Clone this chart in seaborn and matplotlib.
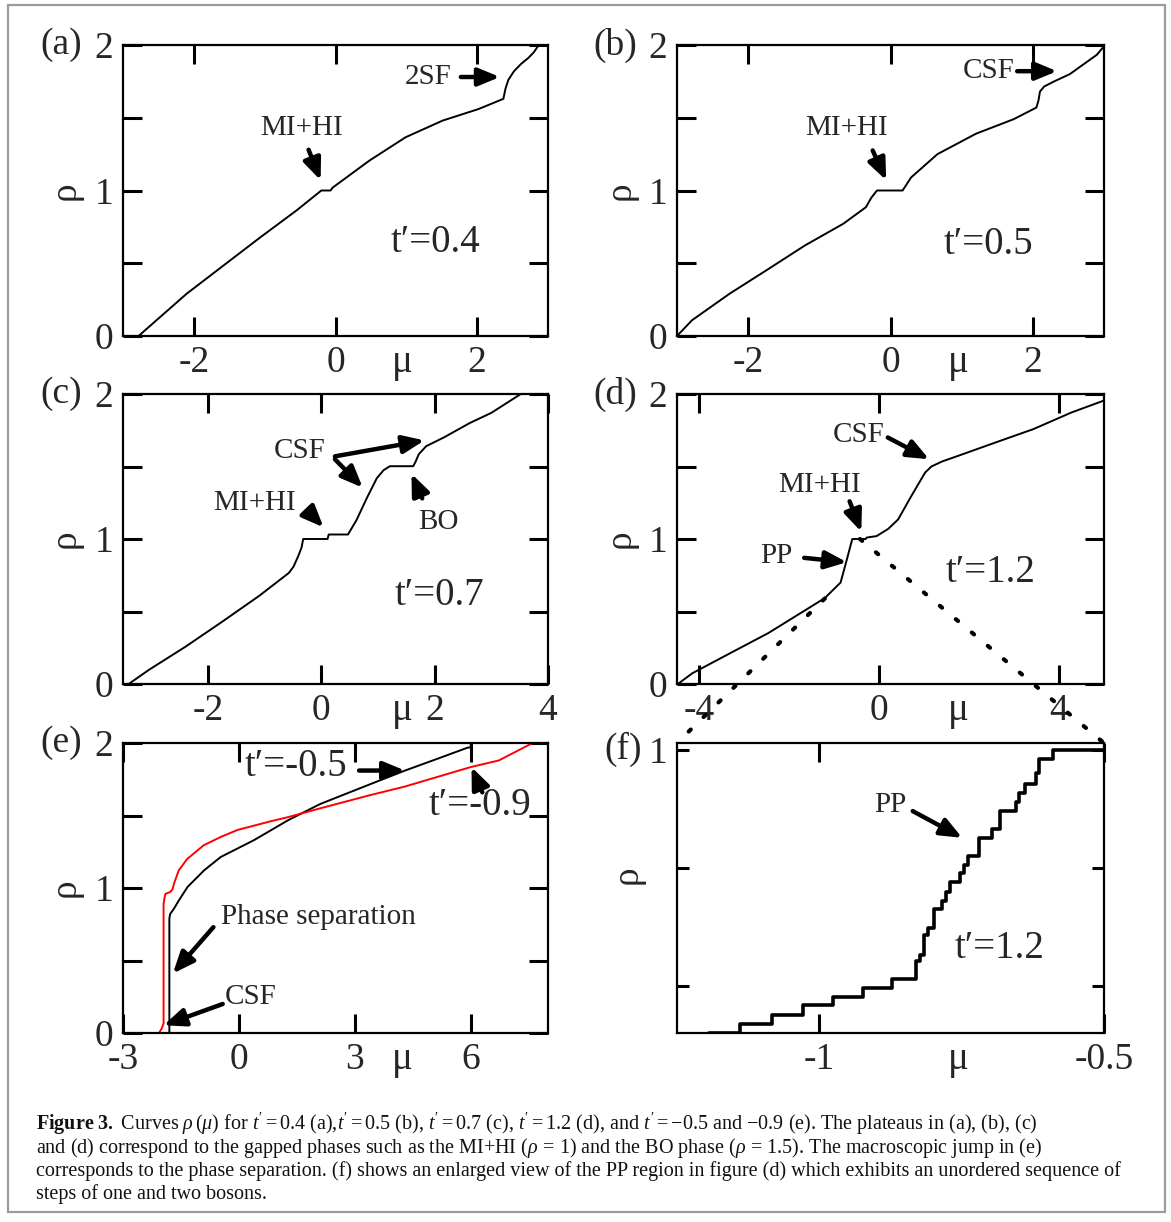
import matplotlib
matplotlib.use("Agg")
import matplotlib.pyplot as plt
import seaborn as sns
from matplotlib.patches import ConnectionPatch, Rectangle

# ---------------------------------------------------------------- data
# (a) t' = 0.4
mu_a = [-2.78, -2.61, -2.10, -1.58, -1.07, -0.55, -0.20, -0.07, -0.04, 0.48,
        0.99, 1.51, 2.02, 2.37, 2.40, 2.44, 2.52, 2.62, 2.72, 2.80, 2.87]
rho_a = [0.0, 0.073, 0.291, 0.485, 0.675, 0.863, 1.0, 1.0, 1.02, 1.206,
         1.366, 1.48, 1.56, 1.63, 1.70, 1.76, 1.82, 1.87, 1.91, 1.95, 2.0]

# (b) t' = 0.5
mu_b = [-3.0, -2.79, -2.26, -1.73, -1.20, -0.665, -0.346, -0.27, -0.19, 0.17,
        0.29, 0.66, 1.20, 1.73, 2.05, 2.08, 2.10, 2.16, 2.30, 2.52, 2.90, 2.98]
rho_b = [0.0, 0.108, 0.291, 0.456, 0.623, 0.771, 0.885, 0.95, 1.0, 1.0,
         1.09, 1.25, 1.39, 1.49, 1.57, 1.62, 1.68, 1.715, 1.75, 1.80, 1.933, 1.98]

# (c) t' = 0.7
mu_c = [-3.40, -3.045, -2.394, -1.744, -1.093, -0.573, -0.49, -0.41, -0.35, -0.32,
        0.11, 0.13, 0.47, 0.62, 0.80, 0.98, 1.10, 1.21, 1.62, 1.66, 1.72, 1.85,
        2.16, 2.62, 3.0, 3.52]
rho_c = [0.0, 0.097, 0.258, 0.431, 0.609, 0.766, 0.81, 0.88, 0.94, 1.0,
         1.0, 1.031, 1.031, 1.13, 1.28, 1.42, 1.475, 1.502, 1.502, 1.53, 1.585, 1.64,
         1.70, 1.80, 1.87, 2.0]

# (d) t' = 1.2
mu_d = [-4.48, -4.16, -3.32, -2.47, -1.63, -1.21, -0.86, -0.72, -0.60, -0.30,
        -0.28, -0.06, 0.20, 0.42, 0.72, 1.02, 1.16, 1.40, 1.75, 2.59, 3.43, 4.28, 5.0]
rho_d = [0.0, 0.074, 0.212, 0.351, 0.512, 0.593, 0.70, 0.86, 1.0, 1.0,
         1.01, 1.02, 1.07, 1.135, 1.30, 1.458, 1.50, 1.535, 1.573, 1.666, 1.758, 1.873, 1.955]

# (e) t' = -0.5 (black) and t' = -0.9 (red)
mu_e1 = [-1.80, -1.80, -1.78, -1.68, -1.55, -1.33, -0.90, -0.47, 0.39, 1.29,
         2.11, 3.39, 4.30, 5.30, 5.92, 6.0, 6.0]
rho_e1 = [0.0, 0.789, 0.82, 0.858, 0.916, 1.007, 1.122, 1.214, 1.33, 1.47,
          1.58, 1.715, 1.81, 1.907, 1.968, 1.97, 2.0]
mu_e2 = [-2.07, -2.00, -1.95, -1.95, -1.92, -1.90, -1.78, -1.72, -1.68, -1.56,
         -1.34, -0.91, -0.47, -0.04, 0.82, 1.29, 2.11, 3.39, 4.30, 6.0, 6.73, 7.6]
rho_e2 = [0.0, 0.03, 0.065, 0.89, 0.94, 0.96, 0.972, 0.99, 1.03, 1.12,
          1.20, 1.295, 1.352, 1.40, 1.46, 1.49, 1.55, 1.64, 1.70, 1.834, 1.88, 2.0]

# (f) PP region of (d), step data (left edge of each plateau)
mu_f = [-1.194, -1.139, -1.083, -1.029, -0.976, -0.924, -0.873, -0.830, -0.824,
        -0.816, -0.809, -0.799, -0.784, -0.778, -0.770, -0.753, -0.746, -0.739,
        -0.720, -0.696, -0.682, -0.655, -0.650, -0.638, -0.620, -0.614, -0.589, -0.500]
rho_f = [0.640, 0.652, 0.663, 0.675, 0.686, 0.697, 0.709, 0.732, 0.739,
         0.764, 0.773, 0.798, 0.808, 0.819, 0.832, 0.843, 0.853, 0.865,
         0.888, 0.899, 0.922, 0.934, 0.945, 0.957, 0.970, 0.988, 1.0, 1.0]

rho_ticks = [0, 0.5, 1, 1.5, 2]
rho_labels = ["0", "", "1", "", "2"]

caption_lines = [
    r"$\mathbf{Figure\ 3.}$ Curves $\rho\,(\mu)$ for $t' = 0.4$ (a),$t' = 0.5$ (b), "
    r"$t' = 0.7$ (c), $t' = 1.2$ (d), and $t' = -0.5$ and $-0.9$ (e). The plateaus in (a), (b), (c)",
    r"and (d) correspond to the gapped phases such as the MI+HI ($\rho\,=\,1$) and the BO phase "
    r"($\rho\,=\,1.5$). The macroscopic jump in (e)",
    "corresponds to the phase separation. (f) shows an enlarged view of the PP region in figure (d) "
    "which exhibits an unordered sequence of",
    "steps of one and two bosons.",
]

# ---------------------------------------------------------------- style
sns.set_theme(style="white")
plt.rcParams["font.family"] = ["Liberation Serif", "DejaVu Serif"]
plt.rcParams["axes.unicode_minus"] = False
plt.rcParams["mathtext.fontset"] = "custom"
plt.rcParams["mathtext.rm"] = "Liberation Serif"
plt.rcParams["mathtext.it"] = "Liberation Serif:italic"
plt.rcParams["mathtext.bf"] = "Liberation Serif:bold"

W, H, DPI = 1171, 1222, 100
fig = plt.figure(figsize=(W / DPI, H / DPI), dpi=DPI)
fig.patch.set_facecolor("white")

FS = 27      # tick / axis label size
FS_T = 28    # t' labels
FS_A = 21    # annotation text


def px_axes(left, top, right, bottom):
    return fig.add_axes([left / W, 1 - bottom / H, (right - left) / W, (bottom - top) / H])


def style(ax, xlim, ylim, xticks, xlabels, yticks=rho_ticks, ylabels=rho_labels,
          ytick_len=14, lab_x=-0.136, lab_y=0.5):
    ax.set_xlim(*xlim)
    ax.set_ylim(*ylim)
    ax.set_xticks(xticks)
    ax.set_xticklabels(xlabels)
    ax.set_yticks(yticks)
    ax.set_yticklabels(ylabels)
    for s in ax.spines.values():
        s.set_color("black")
        s.set_linewidth(1.6)
    ax.tick_params(axis="x", which="both", direction="in", top=True, bottom=True,
                   length=14, width=2.2, color="black", labelsize=FS, pad=6.5)
    ax.tick_params(axis="y", which="both", direction="in", left=True, right=True,
                   length=ytick_len, width=2.2, color="black", labelsize=FS, pad=7)
    ax.set_xlabel("μ", fontsize=FS + 1)
    ax.xaxis.set_label_coords(0.658, -0.124)
    ax.xaxis.label.set_verticalalignment("baseline")
    ax.set_ylabel("ρ", fontsize=FS)
    ax.yaxis.set_label_coords(lab_x, lab_y)
    ax.yaxis.label.set_verticalalignment("center")
    ax.grid(False)


def arrow(ax, tail, head):
    ax.annotate("", xy=head, xytext=tail,
                arrowprops=dict(arrowstyle="-|>,head_length=0.65,head_width=0.27",
                                lw=3.2, color="black", shrinkA=0, shrinkB=0,
                                mutation_scale=20))


def curve(ax, x, y, color="black", lw=1.4, **kw):
    sns.lineplot(x=x, y=y, ax=ax, color=color, lw=lw, sort=False, estimator=None, **kw)


ax_a = px_axes(123, 45, 548, 336)
ax_b = px_axes(677, 45, 1104, 336)
ax_c = px_axes(123, 394, 548, 684)
ax_d = px_axes(677, 394, 1104, 684)
ax_e = px_axes(123, 743, 548, 1033)
ax_f = px_axes(677, 743, 1104, 1033)

# (a)
curve(ax_a, mu_a, rho_a)
style(ax_a, (-3, 3), (0, 2), [-2, 0, 2], ["-2", "0", "2"])
ax_a.text(-0.48, 1.43, "MI+HI", fontsize=FS_A, ha="center", va="center")
arrow(ax_a, (-0.38, 1.28), (-0.21, 1.07))
ax_a.text(1.31, 1.78, "2SF", fontsize=FS_A, ha="center", va="center")
arrow(ax_a, (1.77, 1.78), (2.32, 1.78))
ax_a.text(1.41, 0.64, "t′=0.4", fontsize=FS_T, ha="center", va="center")

# (b)
curve(ax_b, mu_b, rho_b)
style(ax_b, (-3, 3), (0, 2), [-2, 0, 2], ["-2", "0", "2"], lab_x=-0.133)
ax_b.text(-0.62, 1.43, "MI+HI", fontsize=FS_A, ha="center", va="center")
arrow(ax_b, (-0.25, 1.275), (-0.06, 1.07))
ax_b.text(1.38, 1.82, "CSF", fontsize=FS_A, ha="center", va="center")
arrow(ax_b, (1.78, 1.82), (2.34, 1.82))
ax_b.text(1.37, 0.63, "t′=0.5", fontsize=FS_T, ha="center", va="center")

# (c)
curve(ax_c, mu_c, rho_c)
style(ax_c, (-3.5, 4), (0, 2), [-2, 0, 2, 4], ["-2", "0", "2", "4"])
ax_c.text(-0.38, 1.605, "CSF", fontsize=FS_A, ha="center", va="center")
arrow(ax_c, (0.24, 1.57), (1.82, 1.68))
arrow(ax_c, (0.24, 1.55), (0.73, 1.354))
ax_c.text(-1.18, 1.245, "MI+HI", fontsize=FS_A, ha="center", va="center")
arrow(ax_c, (-0.23, 1.19), (0.04, 1.08))
ax_c.text(2.07, 1.12, "BO", fontsize=FS_A, ha="center", va="center")
arrow(ax_c, (1.78, 1.28), (1.59, 1.45))
ax_c.text(2.08, 0.61, "t′=0.7", fontsize=FS_T, ha="center", va="center")

# (d)
curve(ax_d, mu_d, rho_d)
style(ax_d, (-4.5, 5), (0, 2), [-4, 0, 4], ["-4", "0", "4"], lab_x=-0.133)
ax_d.text(-0.45, 1.72, "CSF", fontsize=FS_A, ha="center", va="center")
arrow(ax_d, (0.19, 1.70), (1.11, 1.55))
ax_d.text(-1.33, 1.37, "MI+HI", fontsize=FS_A, ha="center", va="center")
arrow(ax_d, (-0.66, 1.26), (-0.40, 1.05))
ax_d.text(-2.29, 0.88, "PP", fontsize=FS_A, ha="center", va="center")
arrow(ax_d, (-1.67, 0.87), (-0.72, 0.84))
ax_d.text(2.48, 0.77, "t′=1.2", fontsize=FS_T, ha="center", va="center")

# (e)
curve(ax_e, mu_e1, rho_e1, color="black")
curve(ax_e, mu_e2, rho_e2, color="#ff0000")
style(ax_e, (-3, 8), (0, 2), [-3, 0, 3, 6], ["-3", "0", "3", "6"])
ax_e.text(1.48, 1.84, "t′=-0.5", fontsize=FS_T, ha="center", va="center")
arrow(ax_e, (3.11, 1.81), (4.30, 1.81))
ax_e.text(6.23, 1.57, "t′=-0.9", fontsize=FS_T, ha="center", va="center")
arrow(ax_e, (6.30, 1.66), (6.02, 1.834))
ax_e.text(-0.47, 0.80, "Phase separation", fontsize=FS_A, ha="left", va="center")
arrow(ax_e, (-0.66, 0.73), (-1.71, 0.41))
ax_e.text(0.31, 0.248, "CSF", fontsize=FS_A, ha="center", va="center")
arrow(ax_e, (-0.42, 0.20), (-1.95, 0.053))

# (f)
curve(ax_f, mu_f, rho_f, lw=2.6, drawstyle="steps-post")
style(ax_f, (-1.25, -0.5), (0.64, 1.0085), [-1, -0.5], ["-1", "-0.5"],
      yticks=[0.70, 0.85, 1.0], ylabels=["", "", "1"], ytick_len=8.5,
      lab_x=-0.117, lab_y=0.545)
ax_f.text(-0.876, 0.93, "PP", fontsize=FS_A, ha="center", va="center")
arrow(ax_f, (-0.836, 0.922), (-0.749, 0.888))
ax_f.text(-0.683, 0.748, "t′=1.2", fontsize=FS_T, ha="center", va="center")

# panel letters
for ax, lab, x, y in [(ax_a, "(a)", -0.195, 1.0), (ax_b, "(b)", -0.197, 1.0),
                      (ax_c, "(c)", -0.195, 1.0), (ax_d, "(d)", -0.197, 1.0),
                      (ax_e, "(e)", -0.195, 1.0), (ax_f, "(f)", -0.169, 0.977)]:
    ax.text(x, y, lab, transform=ax.transAxes, fontsize=FS, ha="left", va="center")

# dotted zoom guides from (d) to (f)
for pd_, pf in [((-1.21, 0.59), (0.0, 1.0)), ((-0.43, 1.0), (1.0, 1.0))]:
    con = ConnectionPatch(xyA=pd_, coordsA=ax_d.transData, xyB=pf, coordsB=ax_f.transAxes,
                          linestyle=(0, (0.7, 4.3)), lw=3.0, color="black",
                          capstyle="round")
    fig.add_artist(con)

# caption
baselines = [1130, 1153, 1176, 1199]
for line, yb in zip(caption_lines, baselines):
    fig.text(36 / W, 1 - yb / H, line, fontsize=14.5, ha="left", va="baseline",
             color="#111111")

# outer frame
fig.add_artist(Rectangle((8 / W, 1 - 1212 / H), (1165 - 8) / W, (1212 - 5) / H,
                         transform=fig.transFigure, fill=False, edgecolor="#9a9a9a", lw=1.6))

fig.savefig("out.png", dpi=DPI, facecolor="white")
